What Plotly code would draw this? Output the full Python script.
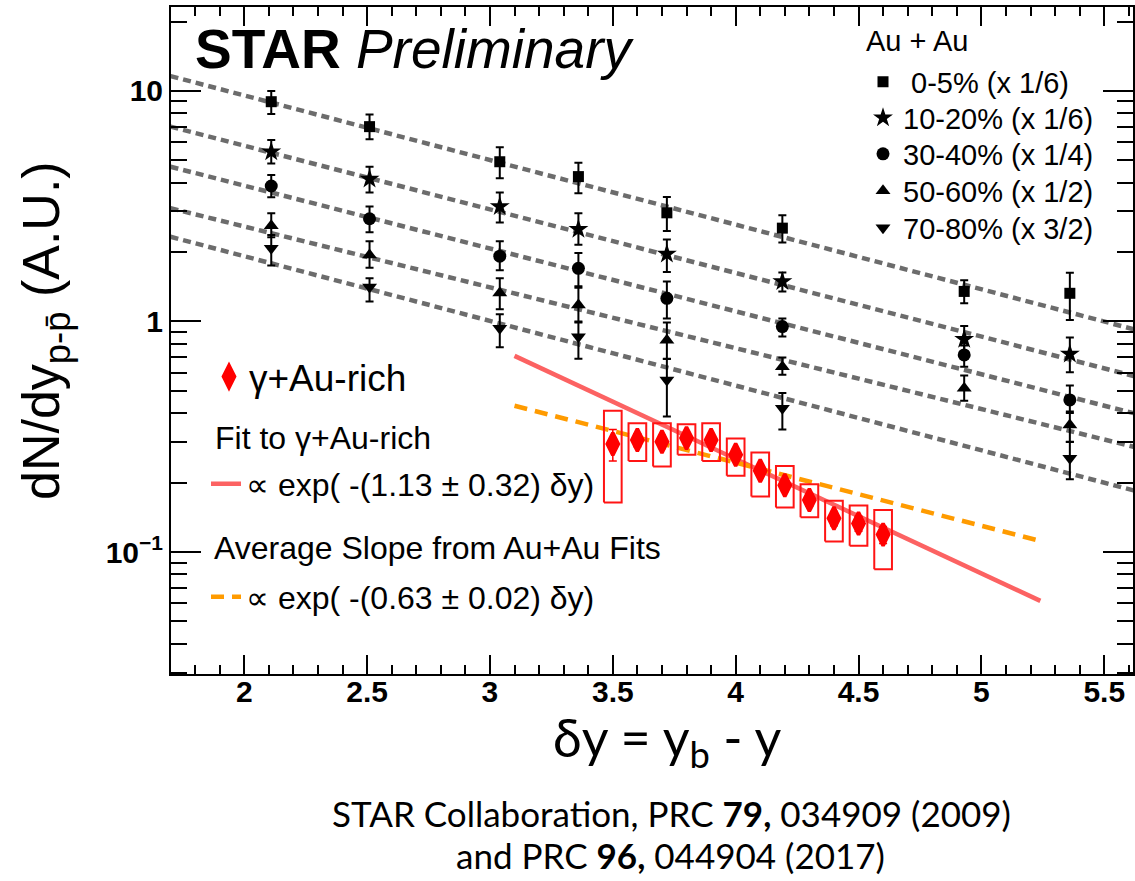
import plotly.graph_objects as go

# ---------------- data ----------------
x_auau = [2.11, 2.51, 3.04, 3.36, 3.72, 4.19, 4.93, 5.36]

y_0_5 = [8.98, 7.0, 4.93, 4.25, 2.96, 2.54, 1.35, 1.325]
ep_0_5 = [1.02, 0.90, 0.77, 0.63, 0.51, 0.35, 0.16, 0.30]
em_0_5 = [1.04, 0.83, 0.75, 0.65, 0.49, 0.34, 0.15, 0.31]

y_10_20 = [5.45, 4.15, 3.15, 2.51, 1.96, 1.49, 0.837, 0.723]
ep_10_20 = [0.67, 0.54, 0.48, 0.44, 0.31, 0.14, 0.12, 0.13]
em_10_20 = [0.60, 0.52, 0.46, 0.36, 0.32, 0.14, 0.11, 0.12]

y_30_40 = [3.87, 2.79, 1.92, 1.70, 1.26, 0.95, 0.716, 0.457]
ep_30_40 = [0.45, 0.36, 0.31, 0.28, 0.23, 0.08, 0.07, 0.07]
em_30_40 = [0.41, 0.35, 0.25, 0.28, 0.23, 0.09, 0.08, 0.05]

y_50_60 = [2.60, 1.94, 1.33, 1.18, 0.83, 0.637, 0.513, 0.356]
ep_50_60 = [0.35, 0.29, 0.21, 0.22, 0.16, 0.06, 0.07, 0.045]
em_50_60 = [0.28, 0.23, 0.20, 0.18, 0.14, 0.05, 0.06, 0.055]

y_70_80 = [2.08, 1.41, 0.934, 0.859, 0.557, 0.42, None, 0.255]
ep_70_80 = [0.29, 0.13, 0.14, 0.13, 0.13, 0.07, None, 0.045]
em_70_80 = [0.33, 0.19, 0.16, 0.17, 0.17, 0.08, None, 0.048]

# Au+Au exponential fits (values at the two ends of the drawn line)
fit_x = [1.70, 5.62]
fit_0_5 = [11.6, 0.925]
fit_10_20 = [7.0, 0.58]
fit_30_40 = [4.69, 0.40]
fit_50_60 = [3.10, 0.286]
fit_70_80 = [2.33, 0.185]

# gamma + Au-rich
x_gam = [3.5, 3.6, 3.7, 3.8, 3.9, 4.0, 4.1, 4.2, 4.3, 4.4, 4.5, 4.6]
y_gam = [0.294, 0.306, 0.301, 0.312, 0.306, 0.264, 0.225, 0.195, 0.168, 0.140, 0.133, 0.119]
stat_gam = [0.046, 0.02, 0.02, 0.015, 0.015, 0.015, 0.012, 0.012, 0.01, 0.01, 0.01, 0.01]
sys_lo_gam = [0.164, 0.248, 0.235, 0.264, 0.248, 0.214, 0.174, 0.156, 0.1416, 0.111, 0.1066, 0.0842]
sys_hi_gam = [0.410, 0.362, 0.362, 0.358, 0.362, 0.311, 0.270, 0.236, 0.197, 0.167, 0.159, 0.152]

fit_gam_x = [3.10, 5.24]
fit_gam_y = [0.709, 0.0614]
avg_slope_x = [3.10, 5.24]
avg_slope_y = [0.431, 0.1117]

y_tickvals = [0.1, 1, 10]
y_ticktext = ["10<sup>\u22121</sup>", "1", "10"]

labels = ["\u00a00-5% (x 1/6)", "10-20% (x 1/6)", "30-40% (x 1/4)", "50-60% (x 1/2)", "70-80% (x 3/2)"]

# ---------------- styles ----------------
BOX_HALF = 0.036
GRAY = "rgb(108,108,108)"
RED_LINE = "rgb(252,98,98)"
ORANGE = "rgb(255,155,0)"
W, H = 1135, 881
ML, MR, MT, MB = 171, 2, 7, 207
FONT = "Liberation Sans, Arial, sans-serif"
LEG_Y = [82, 118, 154, 191, 228]
LEG_NAMES = ["legend", "legend5", "legend6", "legend7", "legend8"]


def px(xp):
    return (xp - ML) / (W - ML - MR)


def py(yp):
    return (H - MB - yp) / (H - MT - MB)


fig = go.Figure()

for fy in [fit_0_5, fit_10_20, fit_30_40, fit_50_60, fit_70_80]:
    fig.add_trace(go.Scatter(x=fit_x, y=fy, mode="lines", showlegend=False,
                             line=dict(color=GRAY, width=4.5, dash="8px,5px"),
                             hoverinfo="skip"))

series = [
    (y_0_5, ep_0_5, em_0_5, "square", 11),
    (y_10_20, ep_10_20, em_10_20, "star", 15),
    (y_30_40, ep_30_40, em_30_40, "circle", 13),
    (y_50_60, ep_50_60, em_50_60, "triangle-up", 13),
    (y_70_80, ep_70_80, em_70_80, "triangle-down", 13),
]
for (yy, ep, em, sym, sz), lab, lg in zip(series, labels, LEG_NAMES):
    fig.add_trace(go.Scatter(
        x=x_auau, y=yy, mode="markers", name=lab, legend=lg,
        marker=dict(symbol=sym, size=sz, color="black"),
        error_y=dict(type="data", symmetric=False, array=ep, arrayminus=em,
                     color="black", thickness=2, width=4)))

fig.add_trace(go.Scatter(x=fit_gam_x, y=fit_gam_y, mode="lines",
                         name="\u221d exp( -(1.13 \u00b1 0.32) \u03b4y)", legend="legend3",
                         line=dict(color=RED_LINE, width=4.5)))
fig.add_trace(go.Scatter(x=avg_slope_x, y=avg_slope_y, mode="lines",
                         name="\u221d exp( -(0.63 \u00b1 0.02) \u03b4y)", legend="legend4",
                         line=dict(color=ORANGE, width=4.5, dash="13px,8px")))

# systematic boxes
bx, by = [], []
for xv, lo, hi in zip(x_gam, sys_lo_gam, sys_hi_gam):
    bx += [xv - BOX_HALF, xv + BOX_HALF, xv + BOX_HALF, xv - BOX_HALF, xv - BOX_HALF, None]
    by += [lo, lo, hi, hi, lo, None]
fig.add_trace(go.Scatter(x=bx, y=by, mode="lines", showlegend=False,
                         line=dict(color="rgb(255,20,20)", width=2), hoverinfo="skip"))

fig.add_trace(go.Scatter(
    x=x_gam, y=y_gam, mode="markers", name="\u03b3+Au-rich", legend="legend2",
    marker=dict(symbol="diamond-tall", size=16, color="red",
                line=dict(color="red", width=3.5)),
    error_y=dict(type="data", array=stat_gam, color="red", thickness=1.5, width=4)))

axis_common = dict(showline=True, linecolor="black", linewidth=2, mirror="allticks",
                   ticks="inside", tickcolor="black", tickwidth=2,
                   showgrid=False, zeroline=False,
                   tickfont=dict(family=FONT, size=30, color="black", weight="bold"))

legends = {}
for lg, yv in zip(LEG_NAMES, LEG_Y):
    legends[lg] = dict(x=px(863), y=py(yv), xanchor="left", yanchor="middle",
                       bgcolor="rgba(0,0,0,0)", borderwidth=0,
                       font=dict(family=FONT, size=29, color="black"))

fig.update_layout(
    width=W, height=H,
    margin=dict(l=ML, r=MR, t=MT, b=MB, autoexpand=False),
    paper_bgcolor="white", plot_bgcolor="white",
    font=dict(family=FONT, color="black"),
    xaxis=dict(range=[1.702, 5.617], dtick=0.5, tick0=0, ticklen=19,
               ticklabelstandoff=-10,
               minor=dict(dtick=0.1, tick0=0, ticklen=9, ticks="inside",
                          tickcolor="black", tickwidth=1.5),
               **axis_common),
    yaxis=dict(type="log", range=[-1.529, 1.364], tickmode="array",
               tickvals=y_tickvals, ticktext=y_ticktext, ticklen=30,
               minor=dict(dtick="D1", ticklen=16, ticks="inside",
                          tickcolor="black", tickwidth=1.5),
               **axis_common),
    legend2=dict(x=px(209), y=py(377), xanchor="left", yanchor="middle",
                 bgcolor="rgba(0,0,0,0)", font=dict(family=FONT, size=37, color="black")),
    legend3=dict(x=px(206), y=py(484), xanchor="left", yanchor="middle",
                 bgcolor="rgba(0,0,0,0)", font=dict(family=FONT, size=32, color="black")),
    legend4=dict(x=px(206), y=py(597), xanchor="left", yanchor="middle",
                 bgcolor="rgba(0,0,0,0)", font=dict(family=FONT, size=32, color="black")),
    showlegend=True,
    **legends,
)

ann = [
    dict(text="<b>STAR</b> <i>Preliminary</i>", x=px(193), y=py(49), xanchor="left",
         yanchor="middle", font=dict(family=FONT, size=55, color="black")),
    dict(text="Au + Au", x=px(864), y=py(41), xanchor="left", yanchor="middle",
         font=dict(family=FONT, size=29, color="black")),
    dict(text="Fit to \u03b3+Au-rich", x=px(213), y=py(438), xanchor="left", yanchor="middle",
         font=dict(family=FONT, size=32, color="black")),
    dict(text="Average Slope from Au+Au Fits", x=px(212), y=py(548), xanchor="left",
         yanchor="middle", font=dict(family=FONT, size=32, color="black")),
    dict(text="dN/dy<sub>p-p\u0304</sub> (A.U.)", x=px(45), y=py(331), textangle=-90,
         xanchor="center", yanchor="middle", font=dict(family=FONT, size=52, color="black")),
    dict(text="\u03b4y = y<sub>b</sub> - y", x=px(667), y=py(741), xanchor="center",
         yanchor="middle", font=dict(family="Lato, sans-serif", size=52, color="black")),
    dict(text="STAR Collaboration, PRC <b>79,</b> 034909 (2009)", x=px(671), y=py(813),
         xanchor="center", yanchor="middle", font=dict(family="Lato, sans-serif", size=35, color="black")),
    dict(text="and PRC <b>96,</b> 044904 (2017)", x=px(670), y=py(855),
         xanchor="center", yanchor="middle", font=dict(family="Lato, sans-serif", size=35, color="black")),
]
for a in ann:
    a.update(xref="paper", yref="paper", showarrow=False)
fig.update_layout(annotations=ann)

fig.write_html("out.html", config={"displayModeBar": False},
               post_script="document.body.style.margin='0px';document.body.style.overflow='hidden';")
